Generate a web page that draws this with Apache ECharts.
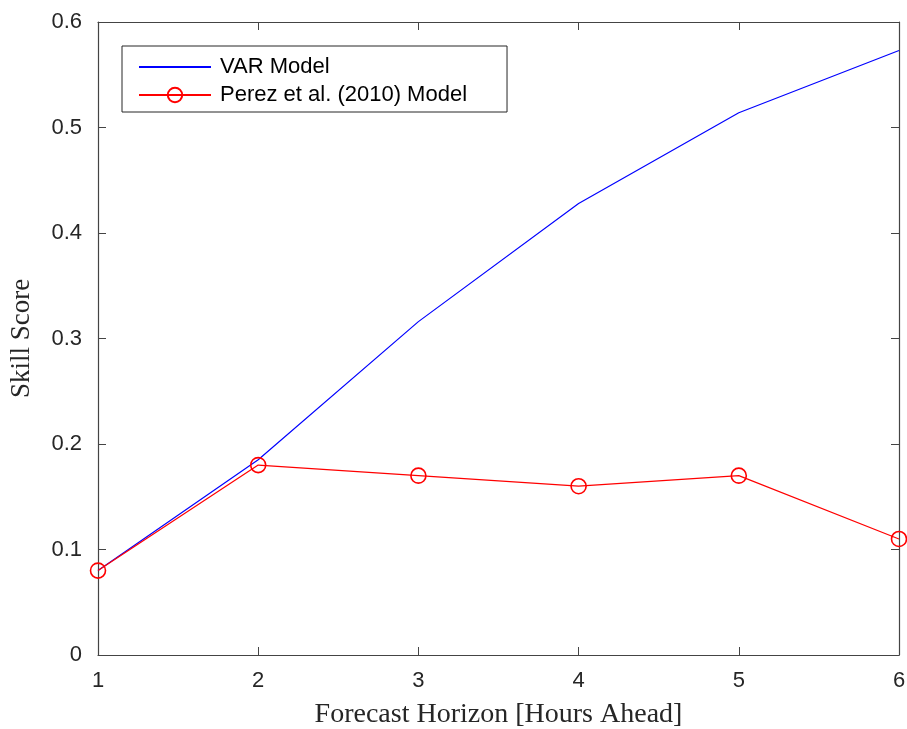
<!DOCTYPE html>
<html>
<head>
<meta charset="utf-8">
<script src="https://cdn.jsdelivr.net/npm/echarts@6/dist/echarts.min.js"></script>
<style>
  html, body { margin: 0; padding: 0; background: #fff; }
  #chart-ctn { width: 907px; height: 729px; }
</style>
</head>
<body>
<div id="chart-ctn"></div>
<script>
var horizons = [1, 2, 3, 4, 5, 6];
var varModel = [0.08, 0.185, 0.316, 0.428, 0.514, 0.573];
var perezModel = [0.08, 0.18, 0.17, 0.16, 0.17, 0.11];
var yTicks = [0, 0.1, 0.2, 0.3, 0.4, 0.5, 0.6];

function pairs(xs, ys) {
  return xs.map(function (x, i) { return [x, ys[i]]; });
}

var axisColor = '#444444';
var labelColor = '#262626';

var myChart = echarts.init(document.getElementById('chart-ctn'));

var xBase = {
  type: 'value',
  min: horizons[0],
  max: horizons[horizons.length - 1],
  interval: 1,
  axisLine: {show: true, onZero: false, lineStyle: {color: axisColor, width: 1.2}},
  axisTick: {show: true, inside: true, length: 8, lineStyle: {color: axisColor}},
  splitLine: {show: false}
};
var yBase = {
  type: 'value',
  min: yTicks[0],
  max: yTicks[yTicks.length - 1],
  interval: 0.1,
  axisLine: {show: true, onZero: false, lineStyle: {color: axisColor, width: 1.2}},
  axisTick: {show: true, inside: true, length: 8, lineStyle: {color: axisColor}},
  splitLine: {show: false}
};

var option = {
  animation: false,
  backgroundColor: '#ffffff',
  grid: {left: 98, right: 8, top: 22, bottom: 74, outerBoundsMode: 'none', containLabel: false},
  legend: {
    left: 122,
    top: 46,
    orient: 'vertical',
    itemWidth: 72,
    itemHeight: 18,
    itemGap: 6,
    padding: [10, 40, 6, 16],
    borderColor: '#262626',
    borderWidth: 1,
    backgroundColor: '#ffffff',
    textStyle: {fontFamily: 'Liberation Sans', fontSize: 22, color: '#000', padding: [0, 0, 0, 4]},
    data: [
      {name: 'VAR Model', itemStyle: {opacity: 0}},
      {name: 'Perez et al. (2010) Model'}
    ]
  },
  xAxis: [
    Object.assign({}, xBase, {
      position: 'bottom',
      name: 'Forecast Horizon [Hours Ahead]',
      nameLocation: 'middle',
      nameGap: 46,
      nameTextStyle: {fontFamily: 'Liberation Serif', fontSize: 28, color: labelColor},
      axisLabel: {show: true, margin: 15, fontFamily: 'Liberation Sans', fontSize: 22, color: labelColor}
    }),
    Object.assign({}, xBase, {position: 'top', axisLabel: {show: false}})
  ],
  yAxis: [
    Object.assign({}, yBase, {
      position: 'left',
      name: 'Skill Score',
      nameLocation: 'middle',
      nameGap: 63,
      nameTextStyle: {fontFamily: 'Liberation Serif', fontSize: 27, color: labelColor},
      axisLabel: {show: true, margin: 16, fontFamily: 'Liberation Sans', fontSize: 22, color: labelColor,
        formatter: function (v) { return String(Math.round(v * 10) / 10); }}
    }),
    Object.assign({}, yBase, {position: 'right', axisLabel: {show: false}})
  ],
  series: [
    {
      name: 'VAR Model',
      type: 'line',
      xAxisIndex: 0,
      yAxisIndex: 0,
      data: pairs(horizons, varModel),
      symbol: 'none',
      clip: false,
      lineStyle: {color: '#0000ff', width: 1.2},
      itemStyle: {color: '#0000ff'}
    },
    {
      name: 'Perez et al. (2010) Model',
      type: 'line',
      xAxisIndex: 0,
      yAxisIndex: 0,
      data: pairs(horizons, perezModel),
      symbol: 'circle',
      symbolSize: 15,
      clip: false,
      z: 3,
      lineStyle: {color: '#ff0000', width: 1.2},
      itemStyle: {color: 'rgba(0,0,0,0)', borderColor: '#ff0000', borderWidth: 1.6}
    }
  ]
};

myChart.setOption(option);
</script>
</body>
</html>
